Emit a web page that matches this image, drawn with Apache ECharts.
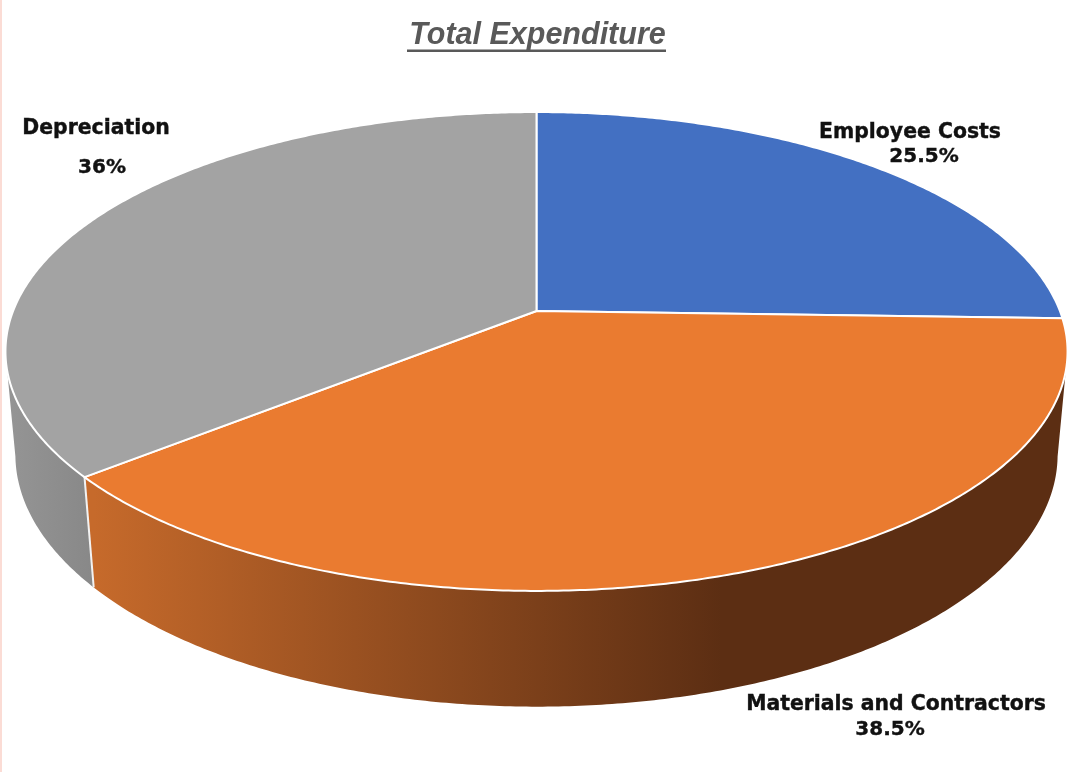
<!DOCTYPE html>
<html>
<head>
<meta charset="utf-8">
<style>
  html, body { margin: 0; padding: 0; background: #ffffff; }
  #chart { width: 1075px; height: 772px; }
</style>
<script src="https://cdn.jsdelivr.net/npm/echarts@6/dist/echarts.min.js"></script>
</head>
<body>
<div id="chart"></div>
<script>
// Expenditure shares, in percent
const categories = ['Employee Costs', 'Materials and Contractors', 'Depreciation'];
const shares = [25.5, 38.5, 36];
const chartTitle = 'Total Expenditure';

// Slice colours
const topColors = ['#4370c2', '#ea7b30', '#a3a3a3'];
const wallColors = [
  null,
  [[0, '#c66a2b'], [0.645, '#5c2e13'], [1, '#5c2e13']],
  [[0, '#959595'], [1, '#888888']]
];

// Where each slice's name and percentage sit
const nameAnchors = [[910, 133], [896, 705], [96, 129]];
const valueAnchors = [[924, 157], [890, 730], [102, 168]];

// Perspective camera for the tilted disc
const camera = { cx: 536.5, cy: 311, rx: 523.4, ry: 232.6, tilt: -0.169, depth: 103.5, depthW: 0.0185 };
// Range of the rim, in degrees clockwise from the top, whose wall faces the viewer
const wallFrom = 100, wallTo = 260;

function project(deg, z) {
  const t = deg * Math.PI / 180;
  const X = Math.sin(t), Y = -Math.cos(t);
  const w = 1 + camera.tilt * Y + camera.depthW * z;
  return [
    camera.cx + camera.rx * X / w,
    camera.cy + (camera.ry * Y + camera.depth * z) / w
  ];
}

function arc(from, to, z) {
  const pts = [];
  const n = Math.max(2, Math.ceil(Math.abs(to - from) * 2));
  for (let i = 0; i <= n; i++) pts.push(project(from + (to - from) * i / n, z));
  return pts;
}

const total = shares.reduce((a, b) => a + b, 0);
const startAngles = [];
shares.reduce((acc, v, i) => { startAngles[i] = acc; return acc + v / total * 360; }, 0);
const sliceRange = i => [startAngles[i], startAngles[i] + shares[i] / total * 360];

// Side walls of the slices, behind the top faces
function renderWall(params) {
  const i = params.dataIndex;
  const [a0, a1] = sliceRange(i);
  const from = Math.max(a0, wallFrom), to = Math.min(a1, wallTo);
  if (to <= from || !wallColors[i]) return { type: 'group', children: [] };
  const top = arc(from, to, 0), bottom = arc(to, from, 1);
  const xs = top.concat(bottom).map(p => p[0]);
  const isOrange = i === 1;
  const x0 = isOrange ? project(a1, 1)[0] : Math.min.apply(null, xs);
  const x1 = Math.max.apply(null, xs);
  const children = [{
    type: 'polygon',
    shape: { points: top.concat(bottom) },
    style: {
      fill: new echarts.graphic.LinearGradient(x0, 0, x1, 0,
        wallColors[i].map(s => ({ offset: s[0], color: s[1] })), true)
    }
  }];
  if (a1 < wallTo) {
    const p = project(a1, 0), q = project(a1, 1);
    children.push({
      type: 'line', z2: 5,
      shape: { x1: p[0], y1: p[1], x2: q[0], y2: q[1] },
      style: { stroke: '#f2f2f2', lineWidth: 2 }
    });
  }
  return { type: 'group', children };
}

// Top faces of the slices
function renderTop(params) {
  const i = params.dataIndex;
  const [a0, a1] = sliceRange(i);
  const pts = [[camera.cx, camera.cy]].concat(arc(a0, a1, 0));
  return {
    type: 'polygon',
    shape: { points: pts },
    style: { fill: topColors[i], stroke: '#ffffff', lineWidth: 2, lineJoin: 'round' }
  };
}

// Slice names and percentages
function renderLabels(params) {
  const i = params.dataIndex;
  const font = { fontFamily: '"DejaVu Sans"', fontWeight: 700, fill: '#111111', stroke: '#111111', lineWidth: 0.4, align: 'center', verticalAlign: 'middle' };
  return {
    type: 'group',
    children: [
      { type: 'text', style: Object.assign({ text: categories[i], x: nameAnchors[i][0], y: nameAnchors[i][1], fontSize: 20.4 }, font) },
      { type: 'text', style: Object.assign({ text: shares[i] + '%', x: valueAnchors[i][0], y: valueAnchors[i][1], fontSize: 20 }, font) }
    ]
  };
}

const chart = echarts.init(document.getElementById('chart'));
const seriesData = shares.map((v, i) => ({ name: categories[i], value: v }));
chart.setOption({
  animation: false,
  backgroundColor: '#ffffff',
  title: {
    text: chartTitle,
    left: 'center',
    top: 16,
    textStyle: { fontFamily: '"Liberation Sans"', fontSize: 30.5, fontWeight: 700, fontStyle: 'italic', color: '#595959' }
  },
  graphic: [
    { type: 'rect', left: 0, top: 0, shape: { width: 2, height: 772 }, style: { fill: '#fbdcd5' }, silent: true },
    { type: 'rect', left: 407, top: 49.5, shape: { width: 259, height: 2.5 }, style: { fill: '#595959' }, silent: true }
  ],
  series: [
    { type: 'custom', coordinateSystem: 'none', z: 1, silent: true, data: seriesData, renderItem: renderWall },
    { type: 'custom', coordinateSystem: 'none', z: 2, silent: true, data: seriesData, renderItem: renderTop },
    { type: 'custom', coordinateSystem: 'none', z: 3, silent: true, data: seriesData, renderItem: renderLabels }
  ]
});
</script>
</body>
</html>
